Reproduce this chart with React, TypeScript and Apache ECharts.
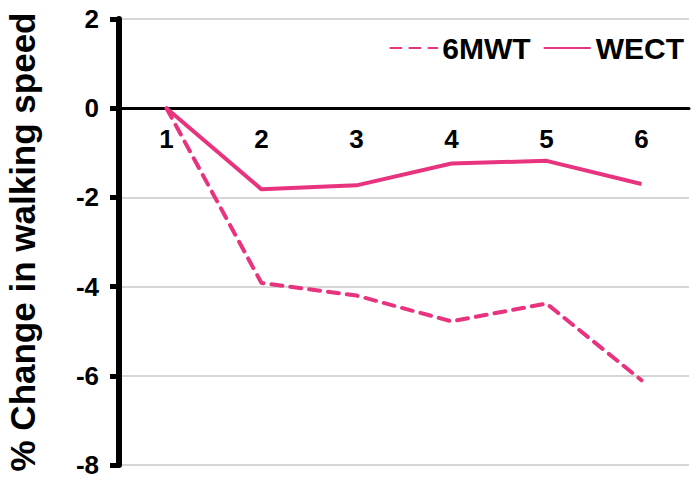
import React, { useEffect, useRef } from "react";
import * as echarts from "echarts";

const categories = ["1", "2", "3", "4", "5", "6"];
const mwt6 = [0, -3.92, -4.2, -4.78, -4.38, -6.1];
const wect = [0, -1.82, -1.73, -1.24, -1.18, -1.7];
const yTicks = { min: -8, max: 2, interval: 2 };

const PINK = "#e8337f";
const FONT = "'Liberation Sans', Arial, sans-serif";

export default function App() {
  const ref = useRef<HTMLDivElement>(null);
  useEffect(() => {
    document.body.style.margin = "0";
    const chart = echarts.init(ref.current!, null, { renderer: "svg" });
    chart.setOption({
      animation: false,
      backgroundColor: "#ffffff",
      textStyle: { fontFamily: FONT },
      grid: { left: 119, right: 11, top: 19, bottom: 27, containLabel: false, outerBoundsMode: "none" },
      legend: {
        right: 11,
        top: 28,
        itemWidth: 47,
        itemHeight: 14,
        itemGap: 12,
        itemStyle: { opacity: 0 },
        textStyle: { fontSize: 30, fontWeight: "bold", color: "#000", fontFamily: FONT },
        data: ["6MWT", "WECT"],
      },
      xAxis: {
        type: "category",
        data: categories,
        boundaryGap: true,
        position: "top",
        offset: -89,
        axisLine: { onZero: false, lineStyle: { color: "#000", width: 3 } },
        axisTick: { alignWithLabel: true, inside: true, length: 8, lineStyle: { color: "#000", width: 3 } },
        axisLabel: { inside: true, fontSize: 26, fontWeight: "bold", color: "#000", margin: 18, fontFamily: FONT },
        splitLine: { show: false },
      },
      yAxis: {
        type: "value",
        min: yTicks.min,
        max: yTicks.max,
        interval: yTicks.interval,
        name: "% Change in walking speed",
        nameLocation: "middle",
        nameGap: 79,
        nameTextStyle: { fontSize: 35, fontWeight: "bold", color: "#000", fontFamily: FONT },
        axisLine: { show: true, onZero: false, lineStyle: { color: "#000", width: 6 } },
        axisTick: { show: true, length: 9, lineStyle: { color: "#000", width: 5 } },
        axisLabel: { fontSize: 26, fontWeight: "bold", color: "#000", margin: 20, fontFamily: FONT },
        splitLine: { show: true, lineStyle: { color: "#c8c8c8", width: 1.5 } },
      },
      series: [
        {
          name: "6MWT",
          type: "line",
          data: mwt6,
          symbol: "none",
          lineStyle: { color: PINK, width: 4, type: [11, 8], cap: "round" },
          itemStyle: { color: PINK },
        },
        {
          name: "WECT",
          type: "line",
          data: wect,
          symbol: "none",
          lineStyle: { color: PINK, width: 4 },
          itemStyle: { color: PINK },
        },
      ],
    });
    return () => chart.dispose();
  }, []);
  return <div ref={ref} style={{ position: "fixed", left: 0, top: 0, width: 700, height: 492 }} />;
}
